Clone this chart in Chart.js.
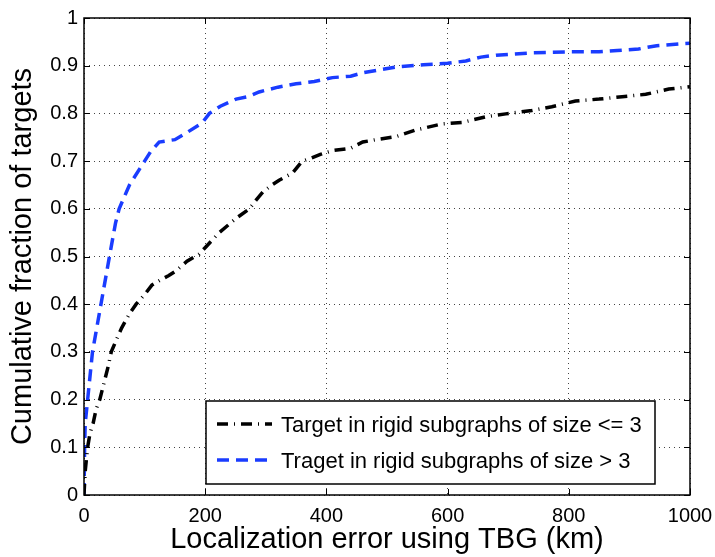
<!DOCTYPE html>
<html>
<head>
<meta charset="utf-8">
<script src="https://cdn.jsdelivr.net/npm/chart.js"></script>
<style>
  html, body { margin: 0; padding: 0; background: #fff; }
  #cdfChart { display: block; }
</style>
</head>
<body>
<canvas id="cdfChart" width="715" height="557"></canvas>
<script>
// localization error (km) vs cumulative fraction, two groups of targets
const smallErrKm = [0, 2, 6, 10, 15, 20, 26, 32, 36, 40, 45, 55, 62, 75, 86, 100, 112, 125, 140, 152,
  170, 190, 201, 223, 251, 273, 285, 295, 310, 322, 344, 360, 372, 390, 410, 440, 460, 482, 514,
  547, 591, 624, 663, 696, 739, 772, 811, 850, 888, 927, 965, 1000];
const smallFrac = [0, 0.05, 0.10, 0.13, 0.15, 0.18, 0.20, 0.23, 0.25, 0.27, 0.30, 0.33, 0.35, 0.38, 0.40,
  0.42, 0.44, 0.45, 0.46, 0.47, 0.49, 0.505, 0.52, 0.55, 0.58, 0.60, 0.62, 0.635, 0.65, 0.66, 0.675,
  0.70, 0.705, 0.714, 0.722, 0.727, 0.74, 0.745, 0.751, 0.765, 0.778, 0.781, 0.793, 0.799, 0.806,
  0.814, 0.826, 0.83, 0.835, 0.84, 0.851, 0.856];

const largeErrKm = [0, 1, 2, 6, 14, 28, 42, 52, 58, 75, 100, 110, 124, 150, 170, 195, 207, 225, 251,
  270, 289, 320, 350, 380, 410, 440, 460, 490, 520, 560, 600, 630, 655, 680, 740, 800, 850, 880,
  915, 945, 985, 1000];
const largeFrac = [0, 0.10, 0.15, 0.20, 0.30, 0.40, 0.50, 0.57, 0.60, 0.65, 0.70, 0.72, 0.74, 0.745,
  0.76, 0.78, 0.80, 0.815, 0.83, 0.835, 0.845, 0.855, 0.862, 0.867, 0.875, 0.878, 0.885, 0.892,
  0.898, 0.902, 0.905, 0.91, 0.918, 0.922, 0.927, 0.929, 0.929, 0.932, 0.935, 0.942, 0.946, 0.947];

const xTickStep = 200;
const yTickStep = 0.1;
const seriesLabels = [
  'Target in rigid subgraphs of size <= 3',
  'Traget in rigid subgraphs of size > 3'
];

const FONT = '"Liberation Sans", Arial, Helvetica, sans-serif';

function toPoints(xs, ys) {
  return xs.map((x, i) => ({ x: x, y: ys[i] }));
}

// box around the axes with inward tick marks on all four sides
const frameTicks = {
  id: 'frameTicks',
  afterDraw(chart) {
    const { ctx, chartArea: a, scales } = chart;
    const len = 6;
    ctx.save();
    ctx.strokeStyle = '#000';
    ctx.lineWidth = 1;
    ctx.beginPath();
    scales.x.ticks.forEach(t => {
      const px = Math.round(scales.x.getPixelForValue(t.value)) + 0.5;
      ctx.moveTo(px, a.bottom); ctx.lineTo(px, a.bottom - len);
      ctx.moveTo(px, a.top); ctx.lineTo(px, a.top + len);
    });
    scales.y.ticks.forEach(t => {
      const py = Math.round(scales.y.getPixelForValue(t.value)) + 0.5;
      ctx.moveTo(a.left, py); ctx.lineTo(a.left + len, py);
      ctx.moveTo(a.right, py); ctx.lineTo(a.right - len, py);
    });
    ctx.stroke();
    ctx.lineWidth = 1.5;
    ctx.strokeRect(a.left, a.top, a.right - a.left, a.bottom - a.top);
    ctx.restore();
  }
};

// boxed legend in the lower right of the plot
const boxLegend = {
  id: 'boxLegend',
  afterDatasetsDraw(chart) {
    const { ctx } = chart;
    const box = { x: 206, y: 401, w: 449, h: 83 };
    const rows = [424, 460];
    ctx.save();
    ctx.fillStyle = '#fff';
    ctx.fillRect(box.x, box.y, box.w, box.h);
    ctx.strokeStyle = '#000';
    ctx.lineWidth = 1.5;
    ctx.strokeRect(box.x, box.y, box.w, box.h);
    chart.data.datasets.forEach((ds, i) => {
      const y = rows[i];
      ctx.strokeStyle = ds.borderColor;
      ctx.lineWidth = ds.borderWidth;
      ctx.setLineDash(ds.borderDash);
      ctx.beginPath();
      ctx.moveTo(217, y);
      ctx.lineTo(272, y);
      ctx.stroke();
      ctx.setLineDash([]);
      ctx.fillStyle = '#000';
      ctx.font = '22px ' + FONT;
      ctx.textBaseline = 'middle';
      ctx.textAlign = 'left';
      ctx.fillText(ds.label, 281, y + 1.5);
    });
    ctx.restore();
  }
};

new Chart(document.getElementById('cdfChart'), {
  type: 'line',
  data: {
    datasets: [{
      label: seriesLabels[0],
      data: toPoints(smallErrKm, smallFrac),
      borderColor: '#000000',
      borderWidth: 3.5,
      borderDash: [11, 6, 1, 6],
      pointRadius: 0,
      tension: 0,
      fill: false
    }, {
      label: seriesLabels[1],
      data: toPoints(largeErrKm, largeFrac),
      borderColor: '#1a3cff',
      borderWidth: 3.5,
      borderDash: [12, 7],
      pointRadius: 0,
      tension: 0,
      fill: false
    }]
  },
  options: {
    responsive: false,
    animation: false,
    devicePixelRatio: 1,
    layout: { padding: { top: 17, right: 25, left: 0, bottom: 0 } },
    plugins: {
      legend: { display: false },
      tooltip: { enabled: false }
    },
    scales: {
      x: {
        type: 'linear',
        min: 0,
        max: 1000,
        afterFit(scale) {
          scale.height = 62;
          scale.paddingLeft = 0;
          scale.paddingRight = 0;
        },
        ticks: {
          stepSize: xTickStep,
          color: '#000',
          padding: 9,
          font: { family: FONT, size: 20 },
          callback: v => String(v)
        },
        grid: { color: '#444', lineWidth: 1, drawTicks: false },
        border: { display: false, dash: [1, 4] },
        title: {
          display: true,
          text: 'Localization error using TBG (km)',
          color: '#000',
          font: { family: FONT, size: 29 },
          padding: { top: -4, bottom: 0 }
        }
      },
      y: {
        type: 'linear',
        min: 0,
        max: 1,
        afterFit(scale) { scale.width = 84; },
        ticks: {
          stepSize: yTickStep,
          color: '#000',
          padding: 6,
          font: { family: FONT, size: 20 },
          callback: v => v.toFixed(1).replace(/\.0$/, '')
        },
        grid: { color: '#444', lineWidth: 1, drawTicks: false },
        border: { display: false, dash: [1, 4] },
        title: {
          display: true,
          text: 'Cumulative fraction of targets',
          color: '#000',
          font: { family: FONT, size: 29 },
          padding: { top: 6, bottom: 0 }
        }
      }
    }
  },
  plugins: [frameTicks, boxLegend]
});
</script>
</body>
</html>
